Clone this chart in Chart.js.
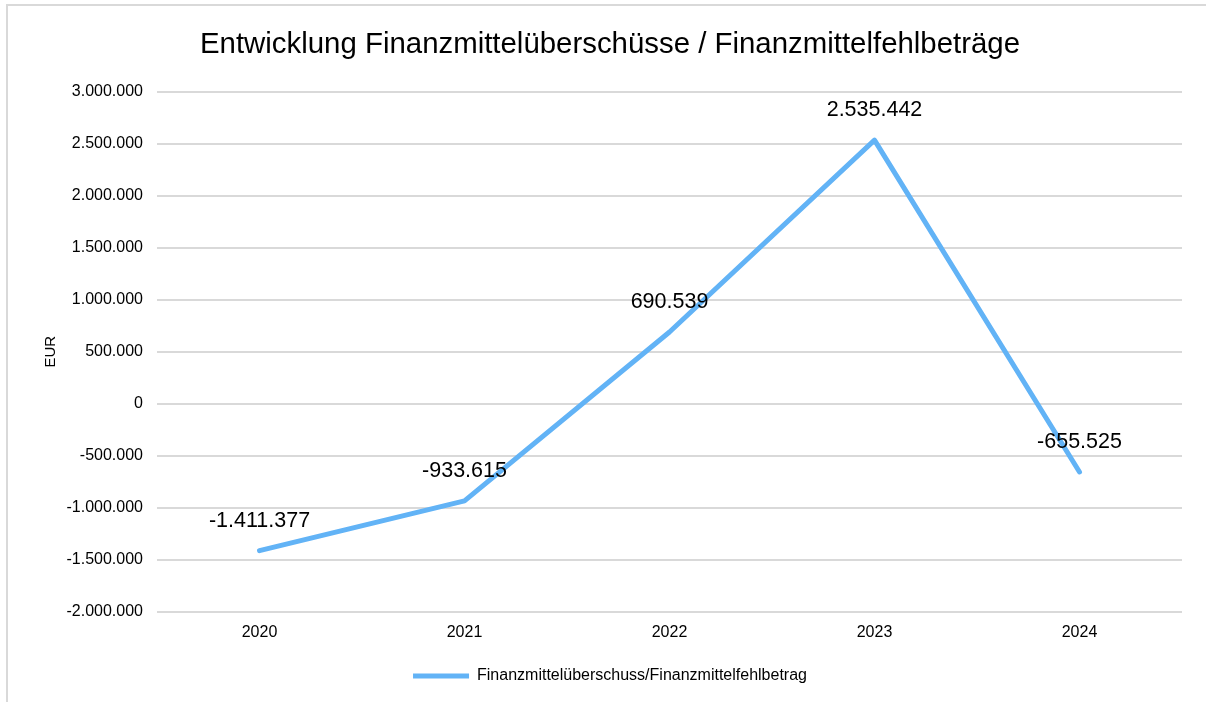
<!DOCTYPE html>
<html>
<head>
<meta charset="utf-8">
<script src="https://cdn.jsdelivr.net/npm/chart.js@4"></script>
<style>
  html, body { margin: 0; padding: 0; background: #fff; }
  #wrap { width: 1206px; height: 702px; position: relative; }
</style>
</head>
<body>
<div id="wrap"><canvas id="chart"></canvas></div>
<script>
const years = ['2020', '2021', '2022', '2023', '2024']
const balance = [-1411377, -933615, 690539, 2535442, -655525]
const seriesName = 'Finanzmittelüberschuss/Finanzmittelfehlbetrag'
const chartTitle = 'Entwicklung Finanzmittelüberschüsse / Finanzmittelfehlbeträge'
const yMin = -2000000
const yMax = 3000000
const yStep = 500000

const FONT = "'Liberation Sans', Arial, sans-serif"
const lineColor = '#62b3f6'
const gridColor = '#d9d9d9'

// 1234567 -> "1.234.567"
function fmt(v) {
  const s = Math.abs(Math.round(v)).toString().replace(/\B(?=(\d{3})+(?!\d))/g, '.')
  return (v < 0 ? '-' : '') + s
}

// light frame on top and left, like the office chart border
const framePlugin = {
  id: 'frame',
  beforeDraw(chart) {
    const ctx = chart.ctx
    ctx.save()
    ctx.strokeStyle = gridColor
    ctx.lineWidth = 2
    ctx.beginPath()
    ctx.moveTo(7, chart.height)
    ctx.lineTo(7, 5)
    ctx.lineTo(chart.width, 5)
    ctx.stroke()
    ctx.restore()
  }
}

// value labels above each point
const valueLabels = {
  id: 'valueLabels',
  afterDatasetsDraw(chart) {
    const ctx = chart.ctx
    const meta = chart.getDatasetMeta(0)
    ctx.save()
    ctx.font = '21.5px ' + FONT
    ctx.fillStyle = '#000'
    ctx.textAlign = 'center'
    ctx.textBaseline = 'middle'
    meta.data.forEach((pt, i) => {
      ctx.fillText(fmt(chart.data.datasets[0].data[i]), pt.x, pt.y - 30)
    })
    ctx.restore()
  }
}

new Chart(document.getElementById('chart'), {
  type: 'line',
  data: {
    labels: years,
    datasets: [{
      label: seriesName,
      data: balance,
      borderColor: lineColor,
      backgroundColor: lineColor,
      borderWidth: 5,
      borderCapStyle: 'round',
      borderJoinStyle: 'round',
      pointRadius: 0,
      tension: 0
    }]
  },
  options: {
    responsive: true,
    maintainAspectRatio: false,
    animation: false,
    layout: { padding: { left: 38, right: 24, top: 0, bottom: 8 } },
    plugins: {
      title: {
        display: true,
        text: chartTitle,
        color: '#000',
        font: { family: FONT, size: 29.4, weight: 'normal' },
        padding: { top: 27, bottom: 29.5 }
      },
      legend: {
        position: 'bottom',
        labels: {
          color: '#000',
          font: { family: FONT, size: 16 },
          usePointStyle: true,
          pointStyle: 'line',
          pointStyleWidth: 56,
          padding: 15
        }
      },
      tooltip: { enabled: false }
    },
    scales: {
      x: {
        offset: true,
        grid: { display: false, drawTicks: false },
        border: { display: false },
        ticks: {
          color: '#000',
          font: { family: FONT, size: 16 },
          padding: 11
        }
      },
      y: {
        min: yMin,
        max: yMax,
        afterFit(scale) { scale.width = 119 },
        grid: { color: gridColor, lineWidth: 2, drawTicks: false },
        border: { display: false },
        ticks: {
          stepSize: yStep,
          color: '#000',
          font: { family: FONT, size: 16 },
          padding: 14,
          callback: (v) => fmt(v)
        },
        title: {
          display: true,
          text: 'EUR',
          color: '#000',
          font: { family: FONT, size: 15 },
          padding: { top: 4, bottom: 0 }
        }
      }
    }
  },
  plugins: [framePlugin, valueLabels]
})
</script>
</body>
</html>
